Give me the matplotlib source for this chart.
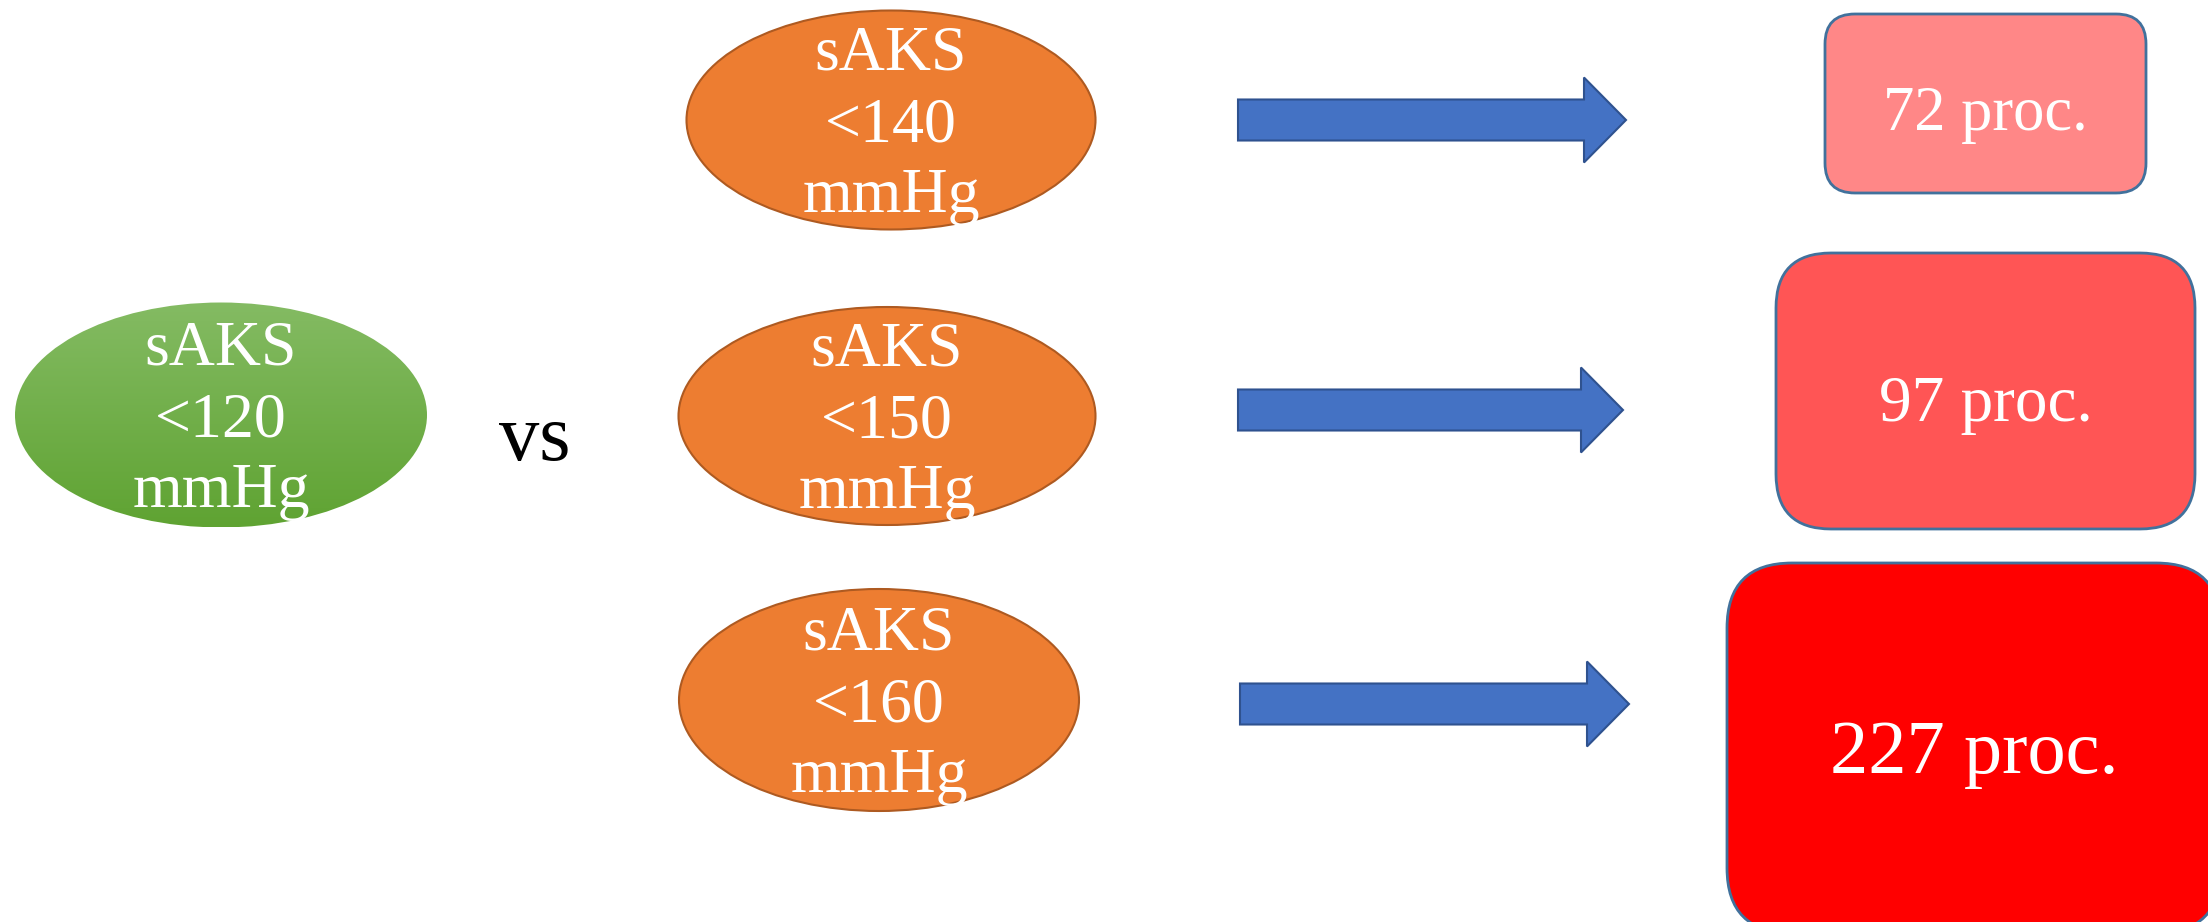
import numpy as np
import matplotlib.pyplot as plt
from matplotlib.patches import Ellipse, FancyArrow, FancyBboxPatch
from matplotlib.colors import LinearSegmentedColormap

# progi ciśnienia skurczowego i wzrost ryzyka
baseline = "<120"
thresholds = ["<140", "<150", "<160"]
risk_pct = [72, 97, 227]
unit = "mmHg"

plt.rcParams['font.family'] = ['Liberation Serif', 'DejaVu Serif']

fig = plt.figure(figsize=(22.08, 9.22), dpi=100)
ax = fig.add_axes([0, 0, 1, 1])
ax.set_xlim(0, 2208)
ax.set_ylim(922, 0)
ax.axis('off')


def label(th):
    return "sAKS\n{}\n{}".format(th, unit)


# zielona elipsa z gradientem
gx, gy, gw, gh = 221, 415, 412, 225
green = Ellipse((gx, gy), gw, gh, facecolor='none', edgecolor='none')
ax.add_patch(green)
grad = np.linspace(0, 1, 256).reshape(-1, 1)
cmap = LinearSegmentedColormap.from_list("g", ["#84bb63", "#5fa332"])
im = ax.imshow(grad, cmap=cmap, aspect='auto',
               extent=(gx - gw / 2, gx + gw / 2, gy + gh / 2, gy - gh / 2))
im.set_clip_path(green)
ax.text(gx, gy + 6, label(baseline), color='white', fontsize=46,
        ha='center', va='center', linespacing=1.3)

ax.text(535, 440, "vs", color='black', fontsize=58, ha='center', va='center')

# pomarańczowe elipsy, strzałki i prostokąty
ell = [(891, 120, 409, 219), (887, 416, 417, 218), (879, 700, 400, 222)]
arrows = [(1238, 120, 1626), (1238, 410, 1623), (1240, 704, 1629)]
boxes = [(1825, 14, 321, 179, 30), (1776, 253, 419, 276, 55),
         (1727, 563, 494, 370, 65)]
box_colors = ["#ff8787", "#ff5555", "#ff0000"]
box_fs = [45, 47, 55]
box_dy = [11, 14, 6]

for i, th in enumerate(thresholds):
    cx, cy, w, h = ell[i]
    ax.add_patch(Ellipse((cx, cy), w, h, facecolor='#ed7d31',
                         edgecolor='#ae5a21', linewidth=1.5))
    ax.text(cx, cy + 6, label(th), color='white', fontsize=46,
            ha='center', va='center', linespacing=1.3)

    x0, ay, x1 = arrows[i]
    ax.add_patch(FancyArrow(x0, ay, x1 - x0, 0, width=41, head_width=85,
                            head_length=42, length_includes_head=True,
                            facecolor='#4472c4', edgecolor='#2f528f',
                            linewidth=1.5))

    bx, by, bw, bh, r = boxes[i]
    ax.add_patch(FancyBboxPatch((bx, by), bw, bh,
                                boxstyle="round,pad=0,rounding_size={}".format(r),
                                facecolor=box_colors[i], edgecolor='#41719c',
                                linewidth=2))
    ax.text(bx + bw / 2, by + bh / 2 + box_dy[i], "{} proc.".format(risk_pct[i]),
            color='white', fontsize=box_fs[i], ha='center', va='center')

fig.savefig("out.png", dpi=100)
